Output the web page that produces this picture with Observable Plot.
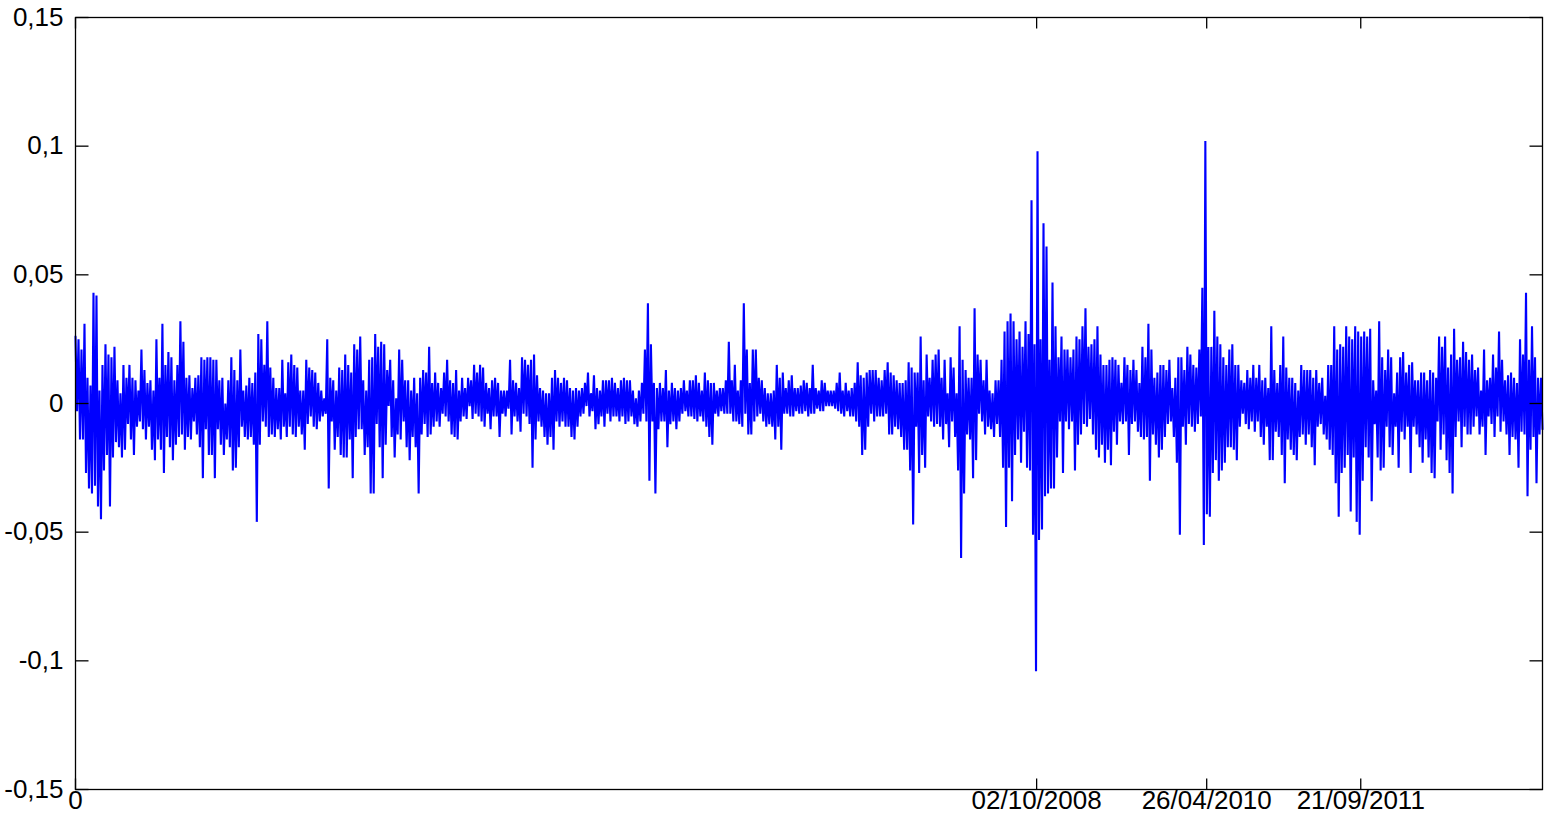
<!DOCTYPE html>
<html>
<head>
<meta charset="utf-8">
<script src="https://cdn.jsdelivr.net/npm/d3@7"></script>
<script src="https://cdn.jsdelivr.net/npm/@observablehq/plot@0.6"></script>
<style>
  html, body { margin: 0; padding: 0; background: #ffffff; }
  #chart { width: 1552px; height: 816px; }
</style>
</head>
<body>
<div id="chart"></div>
<script>
// Span of the series in trading days (index axis of the original plot)
const totalDays = 3390;

// Daily returns, in thousandths (per mille),
// stored as alternating local high / low excursions along the series.
const returnsPermille = [
  // start of series
  26,-3, 25,-14, 21,-14, 31,-27, 10,-33, 7,-35, 43,-32, 42,-40, 5,-45, 15,-26,
  23,-20, 19,-40, 18,-21, 22,-15, 9,-17, 4,-21, 15,-18, 10,-8, 15,-14, 10,-20,
  9,-9, 5,-7, 21,-10, 13,-14, 8,-9, 9,-18, 5,-22, 25,-14, 10,-18, 31,-27,
  15,-13, 20,-17, 18,-22, 9,-16, 15,-13, 32,-12, 24,-18, 10,-13, 11,-14, 6,-7,
  10,-12, 11,-17, 18,-29, 17,-10, 18,-20,
  //
  18,-20, 17,-29, 17,-10, 9,-16, 10,-20, 0,-14, 9,-17, 18,-26, 13,-25, 9,-17,
  21,-9, 5,-13, 7,-14, 10,-13, 8,-16, 12,-46, 27,-16, 25,-7, 15,-9, 32,-13,
  14,-12, 10,-13, 6,-10, 6,-14, 17,-9, 4,-13, 16,-9, 19,-12, 15,-13, 14,-9,
  5,-12, 5,-18, 17,-8, 14,-5, 13,-9, 12,-10, 8,-7, 5,-5, 2,-4, 25,-33,
  10,-7, 9,-18, 5,-13, 14,-20, 13,-21,
  //
  19,-21, 15,-14, 12,-29, 23,-13, 21,-10, 26,-10, 9,-20, 5,-17, 17,-35, 18,-35,
  27,-8, 22,-17, 24,-29, 23,-16, 13,-1, 17,-13, 9,-21, 2,-12, 21,-14, 17,-7,
  9,-17, 9,-22, 5,-13, 10,-17, 4,-35, 10,-12, 13,-8, 12,-13, 22,-12, 8,-9,
  12,-7, 8,-9, 6,-4, 12,-5, 17,-7, 9,-12, 8,-13, 13,-14, 5,-7, 10,-5,
  6,-6, 10,-1, 9,-6, 15,-4, 12,-5,
  //
  15,-7, 14,-9, 8,-4, 6,-10, 9,-5, 10,-5, 8,-13, 5,-4, 5,-5, 5,-2,
  17,-12, 9,-5, 8,-7, 6,-11, 18,-4, 17,-5, 15,-8, 17,-25, 19,-14, 11,-7,
  6,-9, 5,-13, 4,-16, 4,-13, 10,-18, 13,-7, 10,-9, 8,-7, 10,-9, 9,-9,
  6,-13, 5,-14, 6,-9, 5,-5, 6,-4, 8,-1, 12,-5, 4,-3, 11,-10, 6,-8,
  5,-5, 9,-9, 9,-4, 9,-7, 10,-5,
  //
  8,-5, 6,-7, 9,-5, 10,-8, 9,-7, 9,-5, 5,-8, 2,-9, 5,-7, 8,-4,
  21,-7, 39,-30, 23,-7, 8,-35, 6,-10, 8,-7, 6,-7, 13,-17, 5,-8, 8,-7,
  6,-10, 5,-7, 6,-4, 9,-3, 5,-5, 9,-5, 9,-6, 11,-7, 8,-5, 5,-7,
  12,-9, 9,-13, 8,-16, 8,-4, 5,-5, 6,-3, 6,-4, 9,-4, 24,-4, 9,-7,
  15,-7, 5,-8, 9,-9, 39,-4, 21,-12,
  //
  8,-12, 21,-7, 21,-5, 10,-4, 9,-7, 6,-9, 4,-8, 4,-9, 5,-14, 15,-9,
  10,-18, 12,-4, 6,-4, 9,-5, 11,-5, 6,-3, 6,-4, 7,-4, 9,-3, 8,-5,
  6,-4, 15,-4, 6,-2, 5,-3, 9,-3, 8,-1, 5,-1, 5,-1, 5,-2, 8,-3,
  12,-4, 5,-5, 8,-3, 5,-5, 6,-5, 8,-7, 16,-9, 11,-20, 10,-18, 12,-9,
  13,-4, 13,-7, 13,-5, 10,-5, 9,-5,
  //
  13,-4, 16,-12, 12,-12, 11,-9, 9,-10, 8,-13, 8,-18, 9,-18, 16,-26, 14,-47,
  12,-9, 12,-27, 26,-20, 9,-25, 19,-5, 10,-7, 17,-9, 19,-8, 21,-9, 10,-14,
  17,-8, 4,-17, 18,-7, 14,-13, 4,-26, 30,-60, 17,-35, 13,-12, 10,-14, 10,-29,
  37,-22, 19,-4, 17,-7, 9,-12, 17,-9, 5,-10, 4,-13, 9,-8, 9,-13, 17,-25,
  28,-48, 32,-25, 35,-38, 32,-20, 25,-14,
  // crisis 2008
  28,-23, 22,-11, 32,-25, 27,-26, 79,-51, 23,-104, 98,-53, 25,-49, 70,-36, 61,-35,
  17,-33, 47,-33, 30,-21, 18,-7, 26,-27, 21,-7, 21,-10, 18,-7, 21,-26, 26,-16,
  25,-12, 30,-8, 37,-9, 22,-6, 23,-12, 25,-18, 30,-21,
  //
  19,-16, 15,-23, 15,-18, 17,-24, 18,-11, 17,-16, 15,-7, 8,-8, 18,-7, 15,-20,
  13,-8, 17,-7, 13,-11, 8,-13, 22,-14, 18,-13, 31,-30, 21,-12, 10,-16, 12,-21,
  15,-18, 15,-13, 13,-8, 17,-7, 6,-13, 10,-23, 18,-51, 18,-9, 13,-16, 22,-8,
  19,-9, 15,-11, 14,-8, 21,-5, 45,-55, 102,-43, 22,-44, 22,-27, 36,-22, 26,-30,
  23,-26, 18,-23, 15,-17,
  //
  21,-17, 23,-18, 15,-22, 15,-9, 9,-4, 8,-8, 13,-10, 10,-7, 15,-11, 10,-7,
  15,-13, 9,-16, 10,-9, 6,-22, 30,-22, 13,-11, 8,-13, 15,-20, 26,-31, 14,-14,
  10,-18, 10,-20, 8,-22, 5,-13, 15,-12, 13,-16, 13,-12, 13,-17, 10,-24, 13,-9,
  8,-8, 10,-12, 3,-14, 15,-18, 15,-20, 30,-31, 21,-44, 23,-27, 22,-25, 30,-20,
  26,-42, 25,-21, 30,-46, 28,-51, 26,-30,
  //
  28,-17, 26,-21, 29,-38, 9,-8, 5,-21, 32,-26, 18,-25, 13,-9, 21,-17, 18,-20,
  4,-9, 12,-25, 18,-11, 20,-14, 12,-9, 15,-27, 16,-9, 9,-12, 9,-17, 12,-23,
  12,-14, 9,-21, 13,-27, 12,-29, 10,-7, 26,-18, 22,-12, 26,-22, 14,-27, 19,-35,
  29,-13, 17,-7, 18,-17, 24,-9, 20,-12, 17,-12, 19,-9, 13,-5, 14,-12, 5,-9,
  21,-20, 9,-5, 10,-8, 19,-13, 14,-5, 28,-11, 17,-7, 9,-12, 11,-20, 12,-13,
  10,-14, 8,-25, 25,-11, 19,-12, 43,-36, 17,-18, 30,-13, 18,-31, 10,-12, 10,-10
];

const yTicks = [-0.15, -0.1, -0.05, 0, 0.05, 0.1, 0.15];
const xTickDays = [0, 2221, 2614, 2970];
const xTickLabels = ["0", "02/10/2008", "26/04/2010", "21/09/2011"];

const series = returnsPermille.map((v, i) => ({
  day: i * totalDays / (returnsPermille.length - 1),
  r: v / 1000
}));

const fmtY = d => String(d).replace(".", ",");
const fmtX = d => xTickLabels[xTickDays.indexOf(d)];

// inward tick shapes (MATLAB style box ticks)
const TL = 13, TB = 11;
const tickFromLeft  = {draw(c) { c.moveTo(0, 0); c.lineTo(TL, 0); }};
const tickFromRight = {draw(c) { c.moveTo(0, 0); c.lineTo(-TL, 0); }};
const tickFromBottom = {draw(c) { c.moveTo(0, 0); c.lineTo(0, -TB); }};
const tickFromTop    = {draw(c) { c.moveTo(0, 0); c.lineTo(0, TB); }};

const chart = Plot.plot({
  width: 1552,
  height: 816,
  marginLeft: 75,
  marginRight: 10,
  marginTop: 17,
  marginBottom: 27,
  style: {fontFamily: "'Liberation Sans', Arial, Helvetica, sans-serif", fontSize: "26px", color: "#000", background: "#fff"},
  x: {domain: [0, totalDays], label: null},
  y: {domain: [-0.15, 0.15], label: null},
  marks: [
    Plot.line(series, {x: "day", y: "r", stroke: "#0000ff", strokeWidth: 2.1, strokeLinejoin: "miter", strokeMiterlimit: 4}),
    Plot.frame({stroke: "#000", strokeWidth: 1.3}),
    Plot.dot(yTicks, {y: d => d, frameAnchor: "left", symbol: tickFromLeft, stroke: "#000", fill: "none", strokeWidth: 1.3}),
    Plot.dot(yTicks, {y: d => d, frameAnchor: "right", symbol: tickFromRight, stroke: "#000", fill: "none", strokeWidth: 1.3}),
    Plot.dot(xTickDays, {x: d => d, frameAnchor: "bottom", symbol: tickFromBottom, stroke: "#000", fill: "none", strokeWidth: 1.3}),
    Plot.dot(xTickDays, {x: d => d, frameAnchor: "top", symbol: tickFromTop, stroke: "#000", fill: "none", strokeWidth: 1.3}),
    Plot.axisY(yTicks, {anchor: "left", tickSize: 0, tickPadding: 12, tickFormat: fmtY, fontSize: 26, label: null}),
    Plot.axisX(xTickDays, {anchor: "bottom", tickSize: 0, tickPadding: 1, tickFormat: fmtX, fontSize: 26, label: null})
  ]
});

document.getElementById("chart").appendChild(chart);
</script>
</body>
</html>
